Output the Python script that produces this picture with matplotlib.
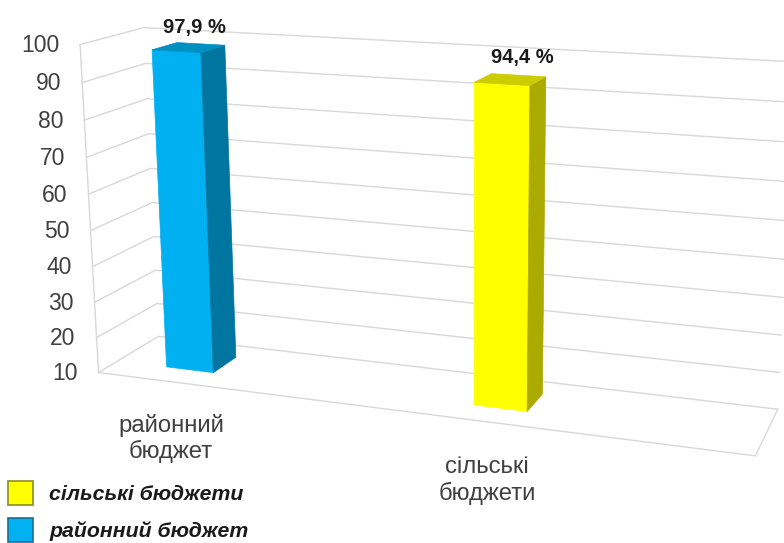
import numpy as np
import matplotlib
matplotlib.use("Agg")
import matplotlib.pyplot as plt
from matplotlib.patches import Polygon, Rectangle

# ========= DATA =========
categories = ["районний\nбюджет", "сільські\nбюджети"]
values = [97.9, 94.4]
value_labels = ["97,9 %", "94,4 %"]
ticks = [10, 20, 30, 40, 50, 60, 70, 80, 90, 100]
legend_labels = ["сільські бюджети", "районний бюджет"]

# ========= STYLE =========
FONT = "Liberation Sans"
GRID = "#d8d8d8"
bar_colors = [("#00b0f0", "#0075a0", "#008fc2"), ("#ffff00", "#aaaa00", "#cccc00")]
legend_colors = [("#ffff00", "#8c8c28"), ("#00b0f0", "#1c6f90")]
bar_x = [0.085, 0.584]
BAR_W = 0.08
BAR_Z = (0.31, 0.72)

# box corners (x, value, depth) and where they land in the picture
corners = [
    ((0, 10, 0), (98, 372)), ((0, 100, 0), (81, 44)),
    ((1, 10, 0), (755, 457)), ((0, 10, 1), (159, 337)),
    ((0, 100, 1), (143, 28)), ((1, 10, 1), (778, 408)),
    ((1, 100, 1), (794, 62)),
]


def fit_projection(pairs):
    rows = []
    for (x, y, z), (u, v) in pairs:
        p = [x, y / 100, z, 1]
        rows.append(p + [0, 0, 0, 0] + [-u * c for c in p])
        rows.append([0, 0, 0, 0] + p + [-v * c for c in p])
    return np.linalg.svd(np.array(rows, float))[2][-1].reshape(3, 4)


P = fit_projection(corners)


def proj(x, y, z):
    u, v, w = P @ np.array([x, y / 100, z, 1])
    return u / w, v / w


fig = plt.figure(figsize=(7.84, 5.43), dpi=100)
ax = fig.add_axes([0, 0, 1, 1])
ax.set_xlim(0, 784)
ax.set_ylim(543, 0)
ax.axis("off")


def line(*pts):
    xy = np.array([proj(*p) for p in pts])
    ax.plot(xy[:, 0], xy[:, 1], color=GRID, lw=1.0, zorder=1)


# walls and floor
for t in ticks:
    line((0, t, 0), (0, t, 1), (1, t, 1))
    u, v = proj(0, t, 0)
    ax.text(u - 21, v + 1, str(t), ha="right", va="center", fontsize=16.5,
            family=FONT, color="#404040")
line((0, 10, 0), (0, 100, 0))
line((0, 10, 0), (1, 10, 0), (1, 10, 1))

# bars
for x0, val, (front, side, top) in zip(bar_x, values, bar_colors):
    x1 = x0 + BAR_W
    z0, z1 = BAR_Z
    faces = [
        ([(x0, 10, z0), (x1, 10, z0), (x1, val, z0), (x0, val, z0)], front),
        ([(x1, 10, z0), (x1, 10, z1), (x1, val, z1), (x1, val, z0)], side),
        ([(x0, val, z0), (x1, val, z0), (x1, val, z1), (x0, val, z1)], top),
    ]
    for pts, c in faces:
        ax.add_patch(Polygon([proj(*p) for p in pts], closed=True, facecolor=c,
                             edgecolor=c, lw=0.5, zorder=3))

# labels
for (u, v), s in zip([(194, 27), (522, 58)], value_labels):
    ax.text(u, v, s, ha="center", va="center", fontsize=14.5, fontweight="bold",
            family=FONT, color="#1a1a1a")
for (u, v), s in zip([(171, 438.5), (487, 480.5)], categories):
    ax.text(u, v, s, ha="center", va="center", fontsize=17.2, family=FONT,
            color="#404040", linespacing=1.2)

# legend
for v, s, (c, e) in zip([493, 530], legend_labels, legend_colors):
    ax.add_patch(Rectangle((8, v - 12), 25, 24, facecolor=c, edgecolor=e, lw=1.2, zorder=3))
    ax.text(49, v + 1.5, s, ha="left", va="center", fontsize=15.3, fontweight="bold",
            fontstyle="italic", family=FONT, color="#1a1a1a")

fig.savefig("out.png", dpi=100)
